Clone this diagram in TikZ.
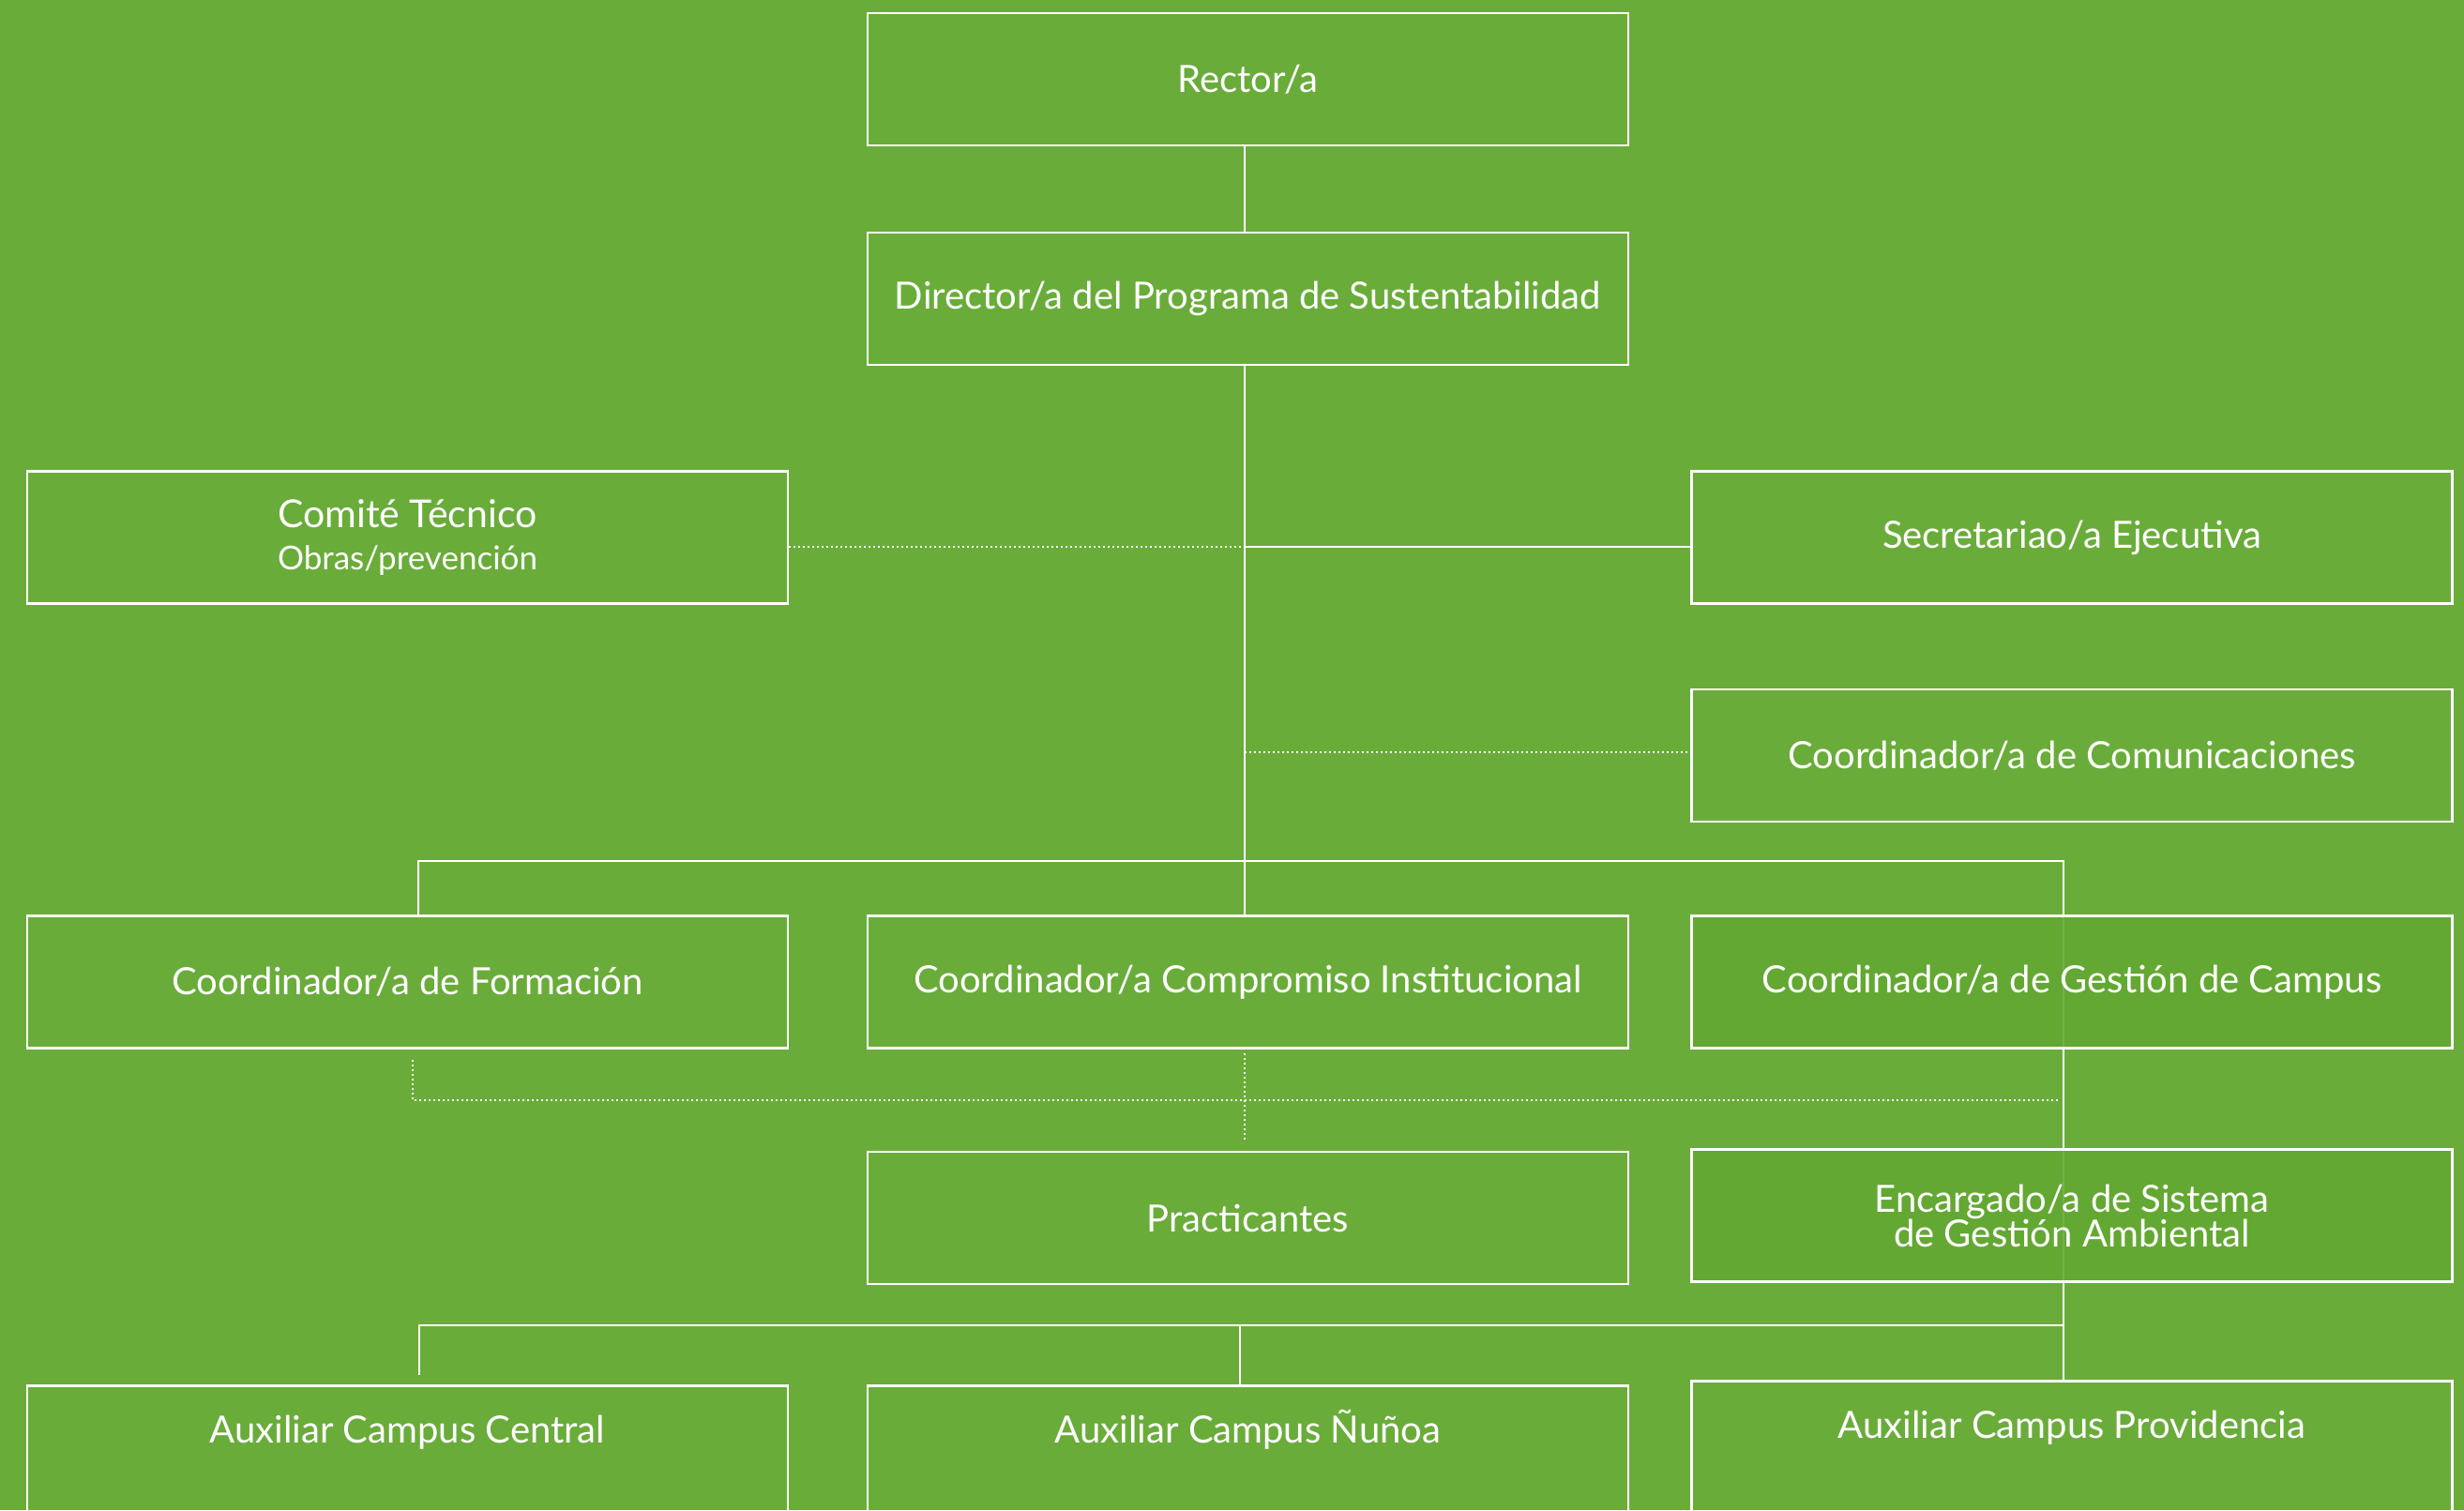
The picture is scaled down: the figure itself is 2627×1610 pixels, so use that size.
\documentclass[tikz,border=0pt]{standalone}
\usepackage{fontspec}
\setmainfont{Lato}
\definecolor{bg}{HTML}{6AAC3A}
\definecolor{bgdark}{HTML}{63A831}
\begin{document}
\begin{tikzpicture}[x=1pt,y=-1pt,
  box/.style={draw=white,line width=2.5pt,minimum width=811pt,minimum height=141pt,inner sep=0pt,
    text=white,font=\fontsize{40}{37}\selectfont,align=center},
  darkbox/.style={box,fill=bgdark,fill opacity=0.88,text opacity=1},
  tallbox/.style={draw=white,line width=2.5pt,minimum width=811pt,minimum height=250pt,inner sep=0pt},
  lbl/.style={text=white,font=\fontsize{40}{37}\selectfont,inner sep=0pt,anchor=base},
  conn/.style={draw=white,line width=2pt},
  dotconn/.style={draw=white,line width=2pt,dash pattern=on 1.5pt off 3.5pt}]
\fill[bg] (0,0) rectangle (2627,1610);
\useasboundingbox (0,0) rectangle (2627,1610);

\node[box] (rector) at (1330.5,84.5) {Rector/a};
\node[box] (director) at (1330.5,318.5) {Director/a del Programa de Sustentabilidad};
\node[box] (comite) at (434.5,573) {{\fontsize{41}{40}\selectfont Comité Técnico}\\[8pt]{\fontsize{35}{40}\selectfont Obras/prevención}};
\node[box] (secret) at (2209,573) {Secretariao/a Ejecutiva};
\node[box] (comunic) at (2209,805.5) {Coordinador/a de Comunicaciones};
\node[box] (formacion) at (434.5,1047) {Coordinador/a de Formación};
\node[box] (compromiso) at (1330.5,1047) {Coordinador/a Compromiso Institucional};
\node[box] (practicantes) at (1330.5,1298.5) {Practicantes};

% named coordinates
\coordinate (j1) at (1327,583);
\coordinate (j2) at (1327,802);
\coordinate (busL) at (446,918);
\coordinate (busR) at (2200,918);
\coordinate (dA) at (440,1130);
\coordinate (dB) at (440,1173);
\coordinate (dC) at (2195,1173);
\coordinate (dD) at (1327,1123);
\coordinate (dE) at (1327,1218);
\coordinate (gs) at (2200,1117);
\coordinate (b2L) at (447,1413);
\coordinate (b2R) at (2200,1413);
\coordinate (b2C) at (1322,1413);
\coordinate (b2Cend) at (1322,1476);
\coordinate (b2Lend) at (447,1466);
\coordinate (provtop) at (2200,1471);

% solid connectors
\draw[conn] (rector.south -| j1) -- (director.north -| j1);
\draw[conn] (director.south -| j1) -- (compromiso.north -| j1);
\draw[conn] (j1) -- (secret.west |- j1);
\draw[conn] (formacion.north -| busL) -- (busL) -- (busR) -- (gs);
\draw[conn] (gs) -- (provtop);
\draw[conn] (b2Lend) -- (b2L) -- (b2R);
\draw[conn] (b2C) -- (b2Cend);

% dotted connectors
\draw[dotconn] (comite.east |- j1) -- (j1);
\draw[dotconn] (j2) -- (comunic.west |- j2);
\draw[dotconn] (dA) -- (dB) -- (dC);
\draw[dotconn] (dD) -- (dE);

% dark boxes over the vertical line
\node[darkbox] (gestion) at (2209,1047) {Coordinador/a de Gestión de Campus};
\node[darkbox] (encargado) at (2209,1296) {Encargado/a de Sistema\\de Gestión Ambiental};

% bottom boxes (cut by the page edge)
\node[tallbox,anchor=north] (aux1) at (434.5,1476) {};
\node[tallbox,anchor=north] (aux2) at (1330.5,1476) {};
\node[tallbox,anchor=north] (aux3) at (2209,1471) {};
\node[lbl] (aux1t) at ([yshift=-62pt]aux1.north) {Auxiliar Campus Central};
\node[lbl] (aux2t) at ([yshift=-62pt]aux2.north) {Auxiliar Campus Ñuñoa};
\node[lbl] (aux3t) at ([yshift=-62pt]aux3.north) {Auxiliar Campus Providencia};
\end{tikzpicture}
\end{document}
